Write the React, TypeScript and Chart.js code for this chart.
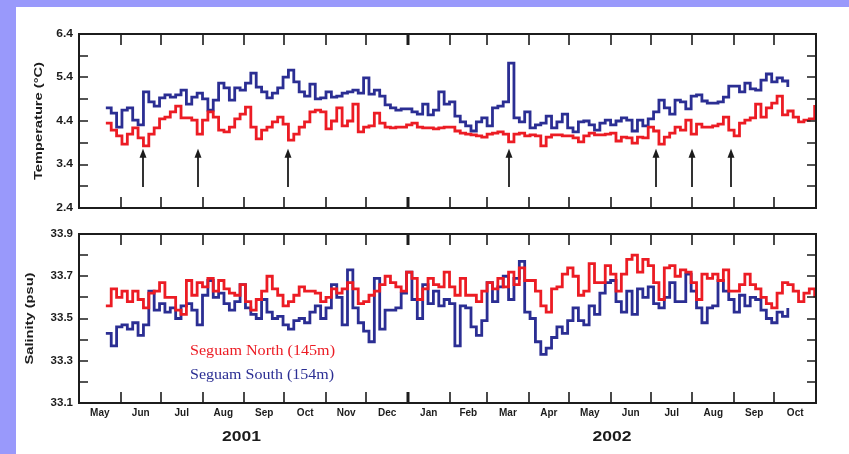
import React, { useEffect, useRef } from "react";
import { Chart, registerables } from "chart.js";

Chart.register(...registerables);

// ---- data ----
const START_DAY = 20; // days since 1 May 2001
const STEP_DAYS = 4;
const TOTAL_DAYS = 549; // 1 May 2001 .. 1 Nov 2002

const monthLabels = ["May", "Jun", "Jul", "Aug", "Sep", "Oct", "Nov", "Dec", "Jan", "Feb", "Mar", "Apr", "May", "Jun", "Jul", "Aug", "Sep", "Oct"];
const monthStartDays = [0, 31, 61, 92, 123, 153, 184, 214, 245, 276, 304, 335, 365, 396, 426, 457, 488, 518, 549];
const yearLabels = ["2001", "2002"];
const yearLabelDays = [121, 397];

const tempTicks = [2.4, 3.4, 4.4, 5.4, 6.4];
const tempTickLabels = ["2.4", "3.4", "4.4", "5.4", "6.4"];
const salTicks = [33.1, 33.3, 33.5, 33.7, 33.9];
const salTickLabels = ["33.1", "33.3", "33.5", "33.7", "33.9"];

const arrowDays = [48, 89, 156, 320, 430, 457, 486];
const arrowBaseTemp = 2.88;
const arrowTipTemp = 3.76;

const seriesNames = ["Seguam North (145m)", "Seguam South (154m)"];

// Seguam South temperature (blue)
const tempSouth = [
  4.70, 4.58, 4.26, 4.65, 4.70, 4.42, 4.31, 5.07, 4.84, 4.74,
  4.93, 5.00, 4.95, 5.00, 5.11, 4.79, 4.95, 5.04, 4.91, 4.65,
  4.88, 5.27, 5.16, 4.88, 5.16, 5.11, 5.27, 5.50, 5.18, 5.07,
  4.93, 5.04, 5.16, 5.41, 5.57, 5.30, 5.07, 4.97, 5.25, 4.91,
  4.93, 5.07, 4.95, 4.97, 5.04, 5.07, 5.11, 5.04, 5.39, 5.02,
  5.11, 4.97, 4.77, 4.70, 4.65, 4.68, 4.68, 4.61, 4.56, 4.79,
  4.54, 4.65, 5.07, 4.79, 4.84, 4.51, 4.38, 4.29, 4.17, 4.38,
  4.47, 4.29, 4.70, 4.74, 4.84, 5.73, 4.47, 4.38, 4.61, 4.24,
  4.31, 4.35, 4.51, 4.24, 4.38, 4.56, 4.24, 4.15, 4.38, 4.40,
  4.31, 4.19, 4.35, 4.42, 4.31, 4.40, 4.47, 4.42, 4.17, 4.42,
  4.29, 4.45, 4.61, 4.88, 4.70, 4.56, 4.88, 4.84, 4.68, 4.97,
  5.00, 4.86, 4.81, 4.81, 4.84, 4.95, 5.20, 5.20, 5.07, 5.27,
  5.14, 5.11, 5.34, 5.48, 5.30, 5.39, 5.32, 5.18,
];

// Seguam North temperature (red)
const tempNorth = [
  4.35, 4.19, 4.06, 3.87, 4.10, 4.24, 4.01, 3.83, 4.10, 4.24,
  4.45, 4.49, 4.61, 4.74, 4.47, 4.47, 4.42, 4.10, 4.42, 4.61,
  4.49, 4.19, 4.15, 4.26, 4.45, 4.56, 4.72, 4.26, 3.99, 4.19,
  4.26, 4.38, 4.49, 4.33, 3.96, 4.10, 4.26, 4.38, 4.61, 4.65,
  4.61, 4.22, 4.40, 4.70, 4.29, 4.40, 4.79, 4.15, 4.26, 4.29,
  4.58, 4.35, 4.26, 4.24, 4.26, 4.26, 4.31, 4.35, 4.26, 4.24,
  4.24, 4.22, 4.24, 4.26, 4.26, 4.17, 4.12, 4.10, 4.08, 4.06,
  4.03, 4.10, 4.12, 4.15, 4.10, 3.92, 4.10, 4.12, 4.06, 4.08,
  4.06, 3.83, 4.03, 4.08, 4.08, 4.06, 4.06, 4.01, 3.92, 4.06,
  4.12, 4.08, 4.08, 4.10, 4.12, 3.94, 4.03, 4.01, 3.89, 4.03,
  4.01, 4.26, 4.17, 3.87, 4.03, 4.12, 4.26, 4.19, 4.42, 4.10,
  4.33, 4.26, 4.26, 4.29, 4.33, 4.49, 4.19, 4.06, 4.35, 4.42,
  4.47, 4.79, 4.49, 4.70, 4.81, 4.97, 4.54, 4.63, 4.49, 4.38,
  4.42, 4.45, 4.77,
];

// Seguam North salinity (red)
const salNorth = [
  33.56, 33.64, 33.60, 33.63, 33.58, 33.63, 33.59, 33.55, 33.62, 33.63,
  33.67, 33.60, 33.60, 33.54, 33.52, 33.68, 33.61, 33.67, 33.65, 33.69,
  33.63, 33.68, 33.64, 33.62, 33.61, 33.66, 33.58, 33.54, 33.59, 33.63,
  33.70, 33.64, 33.61, 33.56, 33.58, 33.61, 33.65, 33.63, 33.63, 33.62,
  33.58, 33.60, 33.64, 33.62, 33.64, 33.67, 33.64, 33.57, 33.58, 33.61,
  33.63, 33.66, 33.70, 33.67, 33.65, 33.63, 33.72, 33.69, 33.59, 33.64,
  33.69, 33.66, 33.65, 33.72, 33.65, 33.61, 33.69, 33.61, 33.61, 33.58,
  33.63, 33.67, 33.64, 33.69, 33.65, 33.72, 33.66, 33.74, 33.68, 33.68,
  33.63, 33.56, 33.53, 33.64, 33.65, 33.71, 33.74, 33.70, 33.61, 33.63,
  33.76, 33.67, 33.67, 33.75, 33.71, 33.63, 33.71, 33.78, 33.80, 33.72,
  33.78, 33.75, 33.67, 33.59, 33.74, 33.75, 33.70, 33.73, 33.72, 33.67,
  33.59, 33.71, 33.69, 33.71, 33.68, 33.73, 33.63, 33.63, 33.66, 33.71,
  33.66, 33.64, 33.60, 33.57, 33.55, 33.62, 33.67, 33.66, 33.63, 33.58,
  33.62, 33.64, 33.60,
];

// Seguam South salinity (blue)
const salSouth = [
  33.43, 33.37, 33.46, 33.47, 33.45, 33.48, 33.42, 33.47, 33.63, 33.54,
  33.57, 33.53, 33.55, 33.50, 33.56, 33.57, 33.54, 33.47, 33.61, 33.68,
  33.60, 33.62, 33.57, 33.54, 33.58, 33.66, 33.55, 33.52, 33.50, 33.59,
  33.53, 33.50, 33.51, 33.47, 33.45, 33.49, 33.50, 33.48, 33.53, 33.56,
  33.50, 33.55, 33.66, 33.60, 33.47, 33.73, 33.55, 33.48, 33.44, 33.39,
  33.69, 33.45, 33.54, 33.54, 33.55, 33.62, 33.72, 33.59, 33.50, 33.66,
  33.57, 33.63, 33.56, 33.59, 33.57, 33.37, 33.56, 33.55, 33.46, 33.42,
  33.49, 33.67, 33.58, 33.65, 33.70, 33.59, 33.69, 33.77, 33.53, 33.50,
  33.39, 33.33, 33.36, 33.41, 33.46, 33.43, 33.49, 33.55, 33.49, 33.47,
  33.56, 33.52, 33.62, 33.67, 33.68, 33.58, 33.53, 33.63, 33.52, 33.64,
  33.60, 33.65, 33.57, 33.55, 33.60, 33.67, 33.58, 33.58, 33.71, 33.63,
  33.55, 33.48, 33.55, 33.56, 33.68, 33.63, 33.59, 33.53, 33.61, 33.56,
  33.60, 33.59, 33.54, 33.50, 33.48, 33.53, 33.51, 33.55,
];

// ---- style ----
const RED = "#ec1c24";
const BLUE = "#2b2e93";
const INK = "#1c1c1c";
const BG = "#9999fb";

const toPoints = (vals: number[]) => vals.map((v, i) => ({ x: START_DAY + i * STEP_DAYS, y: v }));

function drawText(
  ctx: CanvasRenderingContext2D, text: string, x: number, y: number, font: string, color: string,
  align: CanvasTextAlign, width?: number, rotate = false
) {
  ctx.save();
  ctx.translate(x, y);
  if (rotate) ctx.rotate(-Math.PI / 2);
  ctx.font = font;
  const w = ctx.measureText(text).width;
  const s = width ? width / w : 1;
  ctx.scale(s, 1);
  ctx.fillStyle = color;
  ctx.textAlign = align;
  ctx.textBaseline = "middle";
  ctx.fillText(text, 0, 0);
  ctx.restore();
}

type PanelOpts = {
  ticks: number[];
  tickLabels: string[];
  minorStep: number;
  title: string;
  titleLen: number;
  titleX: number;
  bottomPanel: boolean;
};

function makeDecor(o: PanelOpts) {
  return {
    id: "panelDecor",
    afterDatasetsDraw(chart: any) {
      const { ctx, chartArea: a, scales } = chart;
      const xs = scales.x;
      const ys = scales.y;
      ctx.save();
      ctx.strokeStyle = INK;
      // month ticks (inward, top and bottom)
      monthStartDays.forEach((d, i) => {
        if (i === 0 || i === monthStartDays.length - 1) return;
        const x = Math.round(xs.getPixelForValue(d));
        ctx.lineWidth = d === 245 ? 3 : 1.6;
        ctx.beginPath();
        ctx.moveTo(x, a.top);
        ctx.lineTo(x, a.top + 11);
        ctx.moveTo(x, a.bottom);
        ctx.lineTo(x, a.bottom - 11);
        ctx.stroke();
      });
      // y ticks (major + minor)
      ctx.lineWidth = 1.6;
      const lo = o.ticks[0];
      const hi = o.ticks[o.ticks.length - 1];
      const n = Math.round((hi - lo) / o.minorStep);
      for (let k = 1; k < n; k++) {
        const v = lo + k * o.minorStep;
        const y = Math.round(ys.getPixelForValue(v));
        ctx.beginPath();
        ctx.moveTo(a.left, y);
        ctx.lineTo(a.left + 9, y);
        ctx.moveTo(a.right, y);
        ctx.lineTo(a.right - 9, y);
        ctx.stroke();
      }
      // frame
      ctx.lineWidth = 2;
      ctx.strokeRect(a.left, a.top, a.right - a.left, a.bottom - a.top);
      // y tick labels
      o.ticks.forEach((v, i) => {
        drawText(ctx, o.tickLabels[i], a.left - 6, ys.getPixelForValue(v), "bold 10px 'Liberation Sans', Arial", INK, "right", o.tickLabels[i].length * 5.6);
      });
      // axis title
      drawText(ctx, o.title, o.titleX, (a.top + a.bottom) / 2, "bold 10px 'Liberation Sans', Arial", INK, "center", o.titleLen, true);

      if (!o.bottomPanel) {
        // event arrows
        ctx.fillStyle = INK;
        ctx.lineWidth = 1.8;
        arrowDays.forEach((d) => {
          const x = Math.round(xs.getPixelForValue(d));
          const yb = ys.getPixelForValue(arrowBaseTemp);
          const yt = ys.getPixelForValue(arrowTipTemp);
          ctx.beginPath();
          ctx.moveTo(x, yb);
          ctx.lineTo(x, yt + 6);
          ctx.stroke();
          ctx.beginPath();
          ctx.moveTo(x, yt);
          ctx.lineTo(x - 3.5, yt + 9);
          ctx.lineTo(x + 3.5, yt + 9);
          ctx.closePath();
          ctx.fill();
        });
      } else {
        // month labels
        monthLabels.forEach((m, i) => {
          const c = (monthStartDays[i] + monthStartDays[i + 1]) / 2;
          drawText(ctx, m, xs.getPixelForValue(c), a.bottom + 10, "bold 10px 'Liberation Sans', Arial", INK, "center");
        });
        // year labels
        yearLabels.forEach((yl, i) => {
          drawText(ctx, yl, xs.getPixelForValue(yearLabelDays[i]), a.bottom + 34, "bold 15px 'Liberation Sans', Arial", INK, "center", 39);
        });
        // legend texts
        drawText(ctx, seriesNames[0], a.left + 111, a.top + 117, "15px 'Liberation Serif', serif", RED, "left", 145);
        drawText(ctx, seriesNames[1], a.left + 111, a.top + 141, "15px 'Liberation Serif', serif", BLUE, "left", 144);
      }
      ctx.restore();
    },
  };
}

function makeChart(canvas: HTMLCanvasElement, north: number[], south: number[], min: number, max: number,
  padding: { left: number; right: number; top: number; bottom: number }, decor: any) {
  return new Chart(canvas, {
    type: "line",
    data: {
      datasets: [
        { label: seriesNames[0], data: toPoints(north), borderColor: RED, borderWidth: 2.8, stepped: true, pointRadius: 0, fill: false },
        { label: seriesNames[1], data: toPoints(south), borderColor: BLUE, borderWidth: 2.8, stepped: true, pointRadius: 0, fill: false },
      ],
    },
    options: {
      responsive: false,
      maintainAspectRatio: false,
      animation: false,
      events: [],
      layout: { padding },
      plugins: { legend: { display: false }, tooltip: { enabled: false }, title: { display: false } },
      scales: {
        x: { type: "linear", min: 0, max: TOTAL_DAYS, display: false },
        y: { type: "linear", min, max, display: false },
      },
    },
    plugins: [decor],
  } as any);
}

export default function App() {
  const topRef = useRef<HTMLCanvasElement>(null);
  const botRef = useRef<HTMLCanvasElement>(null);

  useEffect(() => {
    const top = makeChart(
      topRef.current!, tempNorth, tempSouth, tempTicks[0], tempTicks[tempTicks.length - 1],
      { left: 79, right: 33, top: 34, bottom: 12 },
      makeDecor({ ticks: tempTicks, tickLabels: tempTickLabels, minorStep: 0.5, title: "Temperature (°C)", titleLen: 118, titleX: 39, bottomPanel: false })
    );
    const bot = makeChart(
      botRef.current!, salNorth, salSouth, salTicks[0], salTicks[salTicks.length - 1],
      { left: 79, right: 33, top: 14, bottom: 51 },
      makeDecor({ ticks: salTicks, tickLabels: salTickLabels, minorStep: 0.1, title: "Salinity (psu)", titleLen: 92, titleX: 30, bottomPanel: true })
    );
    return () => {
      top.destroy();
      bot.destroy();
    };
  }, []);

  return (
    <div style={{ position: "absolute", left: 0, top: 0, width: 849, height: 454, background: BG, overflow: "hidden" }}>
      <div style={{ position: "absolute", left: 16, top: 7, width: 833, height: 447, background: "#ffffff" }} />
      <canvas ref={topRef} width={849} height={220} style={{ position: "absolute", left: 0, top: 0, width: 849, height: 220 }} />
      <canvas ref={botRef} width={849} height={234} style={{ position: "absolute", left: 0, top: 220, width: 849, height: 234 }} />
    </div>
  );
}
